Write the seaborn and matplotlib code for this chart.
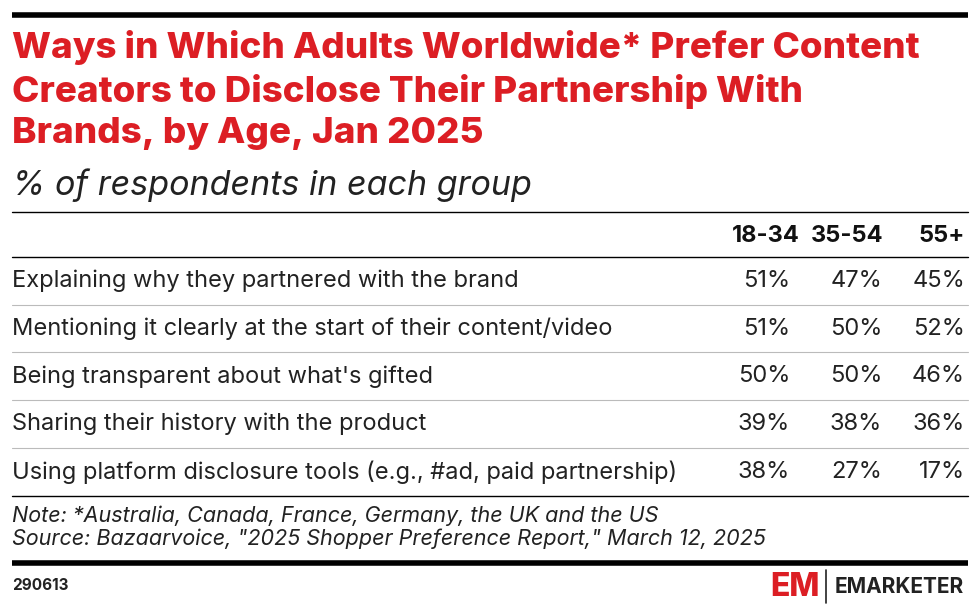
import matplotlib
matplotlib.use("Agg")
import matplotlib.pyplot as plt
import seaborn as sns

sns.set_theme(style="white")
plt.rcParams['font.family'] = ['Inter', 'DejaVu Sans']

title = "Ways in Which Adults Worldwide* Prefer Content\nCreators to Disclose Their Partnership With\nBrands, by Age, Jan 2025"
subtitle = "% of respondents in each group"
columns = ["18-34", "35-54", "55+"]
categories = [
    "Explaining why they partnered with the brand",
    "Mentioning it clearly at the start of their content/video",
    "Being transparent about what's gifted",
    "Sharing their history with the product",
    "Using platform disclosure tools (e.g., #ad, paid partnership)",
]
v1834 = [51, 51, 50, 39, 38]
v3554 = [47, 50, 50, 38, 27]
v55 = [45, 52, 46, 36, 17]
note = "Note: *Australia, Canada, France, Germany, the UK and the US\nSource: Bazaarvoice, \"2025 Shopper Preference Report,\" March 12, 2025"
code = "290613"

fig = plt.figure(figsize=(9.8, 6.14), dpi=100)
ax = fig.add_axes([0, 0, 1, 1])
ax.set_xlim(0, 980)
ax.set_ylim(614, 0)
ax.axis("off")

red = "#dc1e24"
ax.plot([12, 968], [15, 15], color="black", lw=4, solid_capstyle="butt")
ax.text(12, 90, title, color=red, fontsize=26.5, fontweight="heavy", va="center", ha="left", linespacing=1.3)
ax.text(12, 185, subtitle, color="#222", fontsize=24.5, fontstyle="italic", va="center", ha="left")
ax.plot([12, 968], [212, 212], color="black", lw=1)

colx = [800, 883, 965]
for x, c in zip(colx, columns):
    ax.text(x, 236, c, fontsize=17, fontweight="bold", ha="right", va="center", color="#111")
ax.plot([12, 968], [257, 257], color="black", lw=1)

row0, step = 281, 47.7
for i, cat in enumerate(categories):
    y = row0 + i * step
    ax.text(12, y, cat, fontsize=17, ha="left", va="center", color="#222")
    for x, vals in zip([790, 882, 965], [v1834, v3554, v55]):
        ax.text(x, y, f"{vals[i]}%", fontsize=17, ha="right", va="center", color="#222")
    if i < len(categories) - 1:
        ax.plot([12, 968], [y + 23.5, y + 23.5], color="#bbbbbb", lw=0.8)
ax.plot([12, 968], [496, 496], color="black", lw=1)

ax.text(12, 527, note, fontsize=15.5, fontstyle="italic", ha="left", va="center", color="#222", linespacing=1.15)
ax.plot([12, 968], [563, 563], color="black", lw=4, solid_capstyle="butt")
ax.text(12, 585, code, fontsize=11, fontweight="bold", ha="left", va="center", color="#222")
ax.text(770, 587, "EM", fontsize=23, fontweight="heavy", color=red, ha="left", va="center")
ax.plot([826, 826], [570, 603], color="#222", lw=1.2)
ax.text(835, 587, "EMARKETER", fontsize=15, fontweight="bold", color="#222", ha="left", va="center")

fig.savefig("out.png", dpi=100)
